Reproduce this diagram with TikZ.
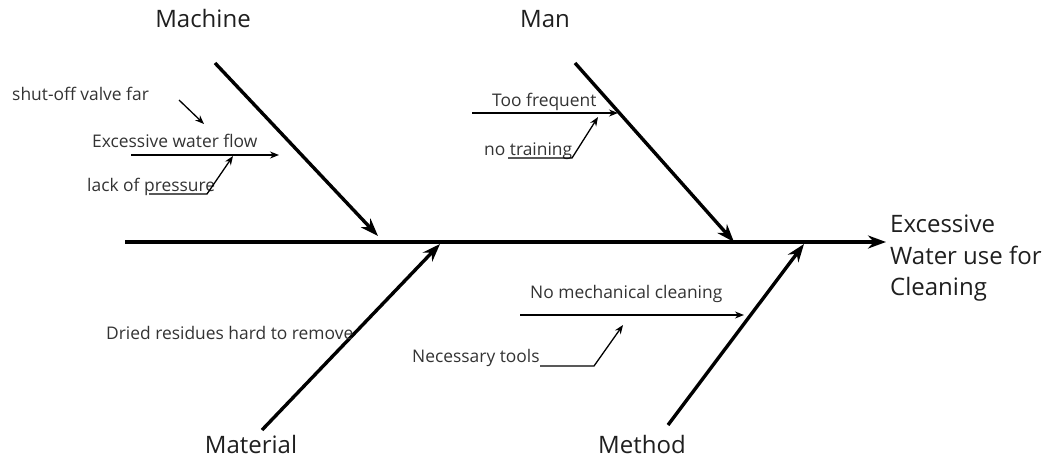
\documentclass[tikz,border=0pt]{standalone}
\usepackage{fontspec}
\setmainfont{Open Sans}
\usetikzlibrary{arrows.meta}
\begin{document}
\begin{tikzpicture}[x=1pt,y=-1pt,
  bone/.style={line width=3.4pt,-{Stealth[length=18pt,width=13pt]}},
  twig/.style={line width=1.3pt,-{Stealth[length=9pt,width=7pt]}},
  head/.style={font=\fontsize{24}{28}\selectfont,inner sep=0pt,text=black!88,anchor=base},
  lbl/.style={font=\fontsize{17.4}{20}\selectfont,inner sep=0pt,text=black!80,anchor=base west}]
\useasboundingbox (0,0) rectangle (1056,461);
% spine
\coordinate (spL) at (125,242);
\coordinate (spR) at (886,242);
\draw[bone] (spL) -- (spR);
\node[inner sep=0pt,text=black!88,anchor=north west,align=left,font=\fontsize{24}{31.5}\selectfont] (effect) at (890,215) {Excessive\\Water use for\\Cleaning};
% bones
\node[head] (machine) at (203,27) {Machine};
\node[head] (man) at (545,27) {Man};
\node[head] (material) at (251,453) {Material};
\node[head] (method) at (642,453) {Method};
\coordinate (machA) at (215,63); \coordinate (machB) at (378,236);
\coordinate (manA) at (575,63); \coordinate (manB) at (734,242);
\coordinate (matA) at (262,430); \coordinate (matB) at (440,244);
\coordinate (metA) at (668,425); \coordinate (metB) at (804,244);
\draw[bone] (machA) -- (machB);
\draw[bone] (manA) -- (manB);
\draw[bone] (matA) -- (matB);
\draw[bone] (metA) -- (metB);
% machine causes
\node[lbl] (valve) at (12,100) {shut-off valve far};
\node[lbl] (flow) at (92,147) {Excessive water flow};
\node[lbl] (press) at (87,191) {lack of pressure};
\coordinate (valveA) at (179,100); \coordinate (valveB) at (204,124);
\draw[twig] (valveA) -- (valveB);
\coordinate (flowA) at (131,155); \coordinate (flowB) at (279,155);
\draw[twig] (flowA) -- (flowB);
\coordinate (pressA) at (149,194); \coordinate (pressK) at (207,194); \coordinate (pressB) at (233,156);
\draw[twig] (pressA) -- (pressK) -- (pressB);
% man causes
\node[lbl] (freq) at (492,106) {Too frequent};
\node[lbl] (train) at (484,155) {no training};
\coordinate (freqA) at (472,113); \coordinate (freqB) at (618,113);
\draw[twig] (freqA) -- (freqB);
\coordinate (trainA) at (508,158); \coordinate (trainK) at (572,158); \coordinate (trainB) at (598,117);
\draw[twig] (trainA) -- (trainK) -- (trainB);
% material causes
\node[lbl] (dried) at (106,339) {Dried residues hard to remove};
% method causes
\node[lbl] (mech) at (530,298) {No mechanical cleaning};
\node[lbl] (tools) at (412,362) {Necessary tools};
\coordinate (mechA) at (520,315); \coordinate (mechB) at (744,315);
\draw[twig] (mechA) -- (mechB);
\coordinate (toolsA) at (540,366); \coordinate (toolsK) at (594,366); \coordinate (toolsB) at (623,325);
\draw[twig] (toolsA) -- (toolsK) -- (toolsB);
\end{tikzpicture}
\end{document}
